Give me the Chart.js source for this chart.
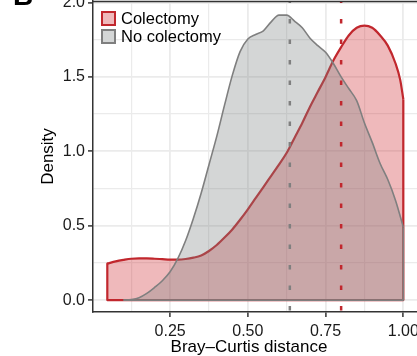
<!DOCTYPE html>
<html lang="en">
<head>
    <meta charset="UTF-8">
    <title>Bray–Curtis distance density</title>
    <script src="https://cdn.jsdelivr.net/npm/chart.js"></script>
    <style>
        body {
            margin: 0;
            background-color: white;
        }
        .chart-container {
            width: 417px;
            height: 356px;
        }
    </style>
</head>
<body>
    <div class="chart-container">
        <canvas id="densityChart" width="417" height="356"></canvas>
    </div>

    <script>
        // Density curves
        const colectomyX = [0.048, 0.075, 0.1, 0.125, 0.15, 0.175, 0.2, 0.225, 0.25, 0.275, 0.3, 0.325, 0.35, 0.375,
            0.4, 0.425, 0.45, 0.475, 0.5, 0.525, 0.55, 0.575, 0.6, 0.625, 0.65, 0.675, 0.7, 0.725, 0.75, 0.775,
            0.8, 0.825, 0.85, 0.875, 0.9, 0.925, 0.95, 0.975, 0.99, 1.0];
        const colectomyY = [0.245, 0.26, 0.27, 0.278, 0.28, 0.28, 0.278, 0.275, 0.272, 0.272, 0.276, 0.285, 0.30, 0.33,
            0.37, 0.42, 0.475, 0.54, 0.61, 0.685, 0.76, 0.835, 0.91, 0.99, 1.09, 1.19, 1.30, 1.40, 1.50, 1.61,
            1.70, 1.78, 1.83, 1.845, 1.83, 1.78, 1.71, 1.59, 1.48, 1.35];

        const noColectomyX = [0.1, 0.125, 0.15, 0.175, 0.2, 0.225, 0.25, 0.275, 0.3, 0.325, 0.35, 0.375,
            0.4, 0.425, 0.45, 0.475, 0.5, 0.525, 0.55, 0.575, 0.6, 0.625, 0.65, 0.675, 0.7, 0.725, 0.75, 0.775,
            0.8, 0.825, 0.85, 0.875, 0.9, 0.925, 0.95, 0.975, 1.0];
        const noColectomyY = [0, 0.004, 0.016, 0.045, 0.085, 0.13, 0.19, 0.28, 0.40, 0.55, 0.72, 0.91,
            1.10, 1.31, 1.51, 1.67, 1.755, 1.785, 1.81, 1.87, 1.915, 1.915, 1.875, 1.83, 1.76, 1.71, 1.665, 1.59,
            1.50, 1.42, 1.34, 1.19, 1.06, 0.92, 0.81, 0.67, 0.49];

        const seriesLabels = ['Colectomy', 'No colectomy'];
        const medianDistance = [0.80, 0.635];

        const xTicks = [0.125, 0.25, 0.375, 0.5, 0.625, 0.75, 0.875, 1.0];
        const xLabelTicks = [0.25, 0.5, 0.75, 1.0];
        const yTicks = [0, 0.25, 0.5, 0.75, 1.0, 1.25, 1.5, 1.75, 2.0];
        const yLabelTicks = [0, 0.5, 1.0, 1.5, 2.0];
        const xRange = [0.002, 1.044];
        const yRange = [-0.08, 2.01];

        const red = '#C1272D';
        const redFill = 'rgba(205, 38, 42, 0.32)';
        const grey = '#7F7F7F';
        const greyFill = 'rgba(125, 132, 132, 0.33)';
        const fontFamily = "'Liberation Sans', Arial, Helvetica, sans-serif";

        function curve(xs, ys) {
            return xs.map((x, i) => ({x: x, y: ys[i]}));
        }
        // the two end edges and the baseline of the density outline
        function outline(xs, ys) {
            const n = xs.length - 1;
            return [{x: xs[0], y: ys[0]}, {x: xs[0], y: 0}, {x: xs[n], y: 0}, {x: xs[n], y: ys[n]}];
        }
        function vline(x) {
            return [{x: x, y: yRange[1]}, {x: x, y: yRange[0]}];
        }

        const isIn = (list, v) => list.some(t => Math.abs(t - v) < 1e-9);

        const extras = {
            id: 'extras',
            afterDraw(chart) {
                const {ctx, chartArea} = chart;
                ctx.save();
                // top panel border
                ctx.strokeStyle = '#333333';
                ctx.lineWidth = 1.5;
                ctx.beginPath();
                ctx.moveTo(chartArea.left, chartArea.top + 0.5);
                ctx.lineTo(chartArea.right, chartArea.top + 0.5);
                ctx.stroke();

                // panel tag, mostly cut off
                ctx.fillStyle = '#000000';
                ctx.font = 'bold 28px ' + fontFamily;
                ctx.textAlign = 'left';
                ctx.textBaseline = 'alphabetic';
                ctx.fillText('B', 13, 5);

                // legend inside the panel
                ctx.font = '16.5px ' + fontFamily;
                ctx.textBaseline = 'middle';
                [0, 1].forEach(i => {
                    const ds = chart.data.datasets[i];
                    const y = 11 + i * 18;
                    ctx.fillStyle = 'white';
                    ctx.fillRect(101, y, 15, 15);
                    ctx.fillStyle = ds.backgroundColor;
                    ctx.fillRect(101, y, 15, 15);
                    ctx.strokeStyle = ds.borderColor;
                    ctx.lineWidth = 2;
                    ctx.strokeRect(102, y + 1, 13, 13);
                    ctx.fillStyle = '#000000';
                    ctx.fillText(ds.label, 121, y + 8);
                });

                // x axis title
                ctx.font = '17px ' + fontFamily;
                ctx.textAlign = 'center';
                ctx.textBaseline = 'alphabetic';
                ctx.fillText('Bray–Curtis distance', 249, 352);
                ctx.restore();
            }
        };

        const ctx = document.getElementById('densityChart').getContext('2d');
        new Chart(ctx, {
            type: 'line',
            data: {
                datasets: [
                    {
                        label: seriesLabels[0],
                        data: curve(colectomyX, colectomyY),
                        borderColor: red,
                        backgroundColor: redFill,
                        borderWidth: 2.2,
                        fill: 'origin',
                        cubicInterpolationMode: 'monotone',
                        order: 5
                    },
                    {
                        label: seriesLabels[1],
                        data: curve(noColectomyX, noColectomyY),
                        borderColor: grey,
                        backgroundColor: greyFill,
                        borderWidth: 1.6,
                        fill: 'origin',
                        cubicInterpolationMode: 'monotone',
                        order: 3
                    },
                    {
                        label: 'edge0',
                        data: outline(colectomyX, colectomyY),
                        borderColor: red,
                        borderWidth: 2.2,
                        fill: false,
                        order: 4
                    },
                    {
                        label: 'edge1',
                        data: outline(noColectomyX, noColectomyY),
                        borderColor: grey,
                        borderWidth: 1.6,
                        fill: false,
                        order: 2
                    },
                    {
                        label: 'median0',
                        data: vline(medianDistance[0]),
                        borderColor: red,
                        borderWidth: 2.5,
                        borderDash: [4.5, 16],
                        borderDashOffset: 2.5,
                        fill: false,
                        order: 0
                    },
                    {
                        label: 'median1',
                        data: vline(medianDistance[1]),
                        borderColor: grey,
                        borderWidth: 2.5,
                        borderDash: [4.5, 16],
                        borderDashOffset: 2.5,
                        fill: false,
                        order: 1
                    }
                ]
            },
            options: {
                responsive: false,
                animation: false,
                devicePixelRatio: 1,
                layout: {
                    padding: {top: 1, left: 0, right: 0, bottom: 0}
                },
                elements: {
                    point: {radius: 0, hoverRadius: 0},
                    line: {tension: 0, borderJoinStyle: 'round'}
                },
                scales: {
                    x: {
                        type: 'linear',
                        min: xRange[0],
                        max: xRange[1],
                        afterBuildTicks: scale => {
                            scale.ticks = xTicks.map(v => ({value: v}));
                        },
                        afterFit: scale => {
                            scale.height = 44;
                            scale.paddingLeft = 0;
                            scale.paddingRight = 0;
                        },
                        ticks: {
                            autoSkip: false,
                            maxRotation: 0,
                            padding: 5,
                            color: '#1a1a1a',
                            font: {family: fontFamily, size: 16},
                            callback: v => isIn(xLabelTicks, v) ? v.toFixed(2) : ''
                        },
                        grid: {
                            color: '#EBEBEB',
                            lineWidth: c => (c.tick && isIn(xLabelTicks, c.tick.value)) ? 1.8 : 1.2,
                            tickColor: c => (c.tick && isIn(xLabelTicks, c.tick.value)) ? '#333333' : 'rgba(0,0,0,0)',
                            tickWidth: 1.5,
                            tickLength: 5
                        },
                        border: {display: true, color: '#333333', width: 1.5}
                    },
                    y: {
                        type: 'linear',
                        min: yRange[0],
                        max: yRange[1],
                        afterBuildTicks: scale => {
                            scale.ticks = yTicks.map(v => ({value: v}));
                        },
                        afterFit: scale => {
                            scale.width = 93;
                            scale.paddingTop = 0;
                            scale.paddingBottom = 0;
                        },
                        ticks: {
                            autoSkip: false,
                            padding: 3,
                            color: '#1a1a1a',
                            font: {family: fontFamily, size: 16},
                            callback: v => isIn(yLabelTicks, v) ? v.toFixed(1) : ''
                        },
                        grid: {
                            color: '#EBEBEB',
                            lineWidth: c => (c.tick && isIn(yLabelTicks, c.tick.value)) ? 1.8 : 1.2,
                            tickColor: c => (c.tick && isIn(yLabelTicks, c.tick.value)) ? '#333333' : 'rgba(0,0,0,0)',
                            tickWidth: 1.5,
                            tickLength: 5
                        },
                        border: {display: true, color: '#333333', width: 1.5},
                        title: {
                            display: true,
                            text: 'Density',
                            color: '#000000',
                            font: {family: fontFamily, size: 17, lineHeight: 1},
                            padding: {top: 39.5, bottom: 0}
                        }
                    }
                },
                plugins: {
                    legend: {display: false},
                    tooltip: {enabled: false}
                }
            },
            plugins: [extras]
        });
    </script>
</body>
</html>
